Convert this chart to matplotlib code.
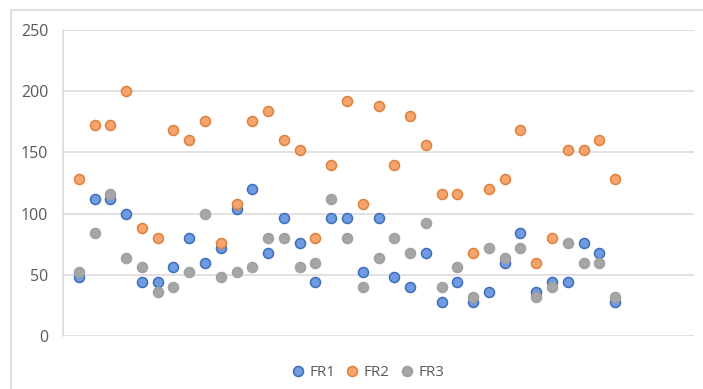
import numpy as np
import matplotlib.pyplot as plt
from matplotlib.patches import Rectangle

# sample index and the three readings
x = np.arange(1, 36)
fr1 = [48, 112, 112, 100, 44, 44, 56, 80, 60, 72, 104, 120, 68, 96, 76, 44, 96, 96,
       52, 96, 48, 40, 68, 28, 44, 28, 36, 60, 84, 36, 44, 44, 76, 68, 28]
fr2 = [128, 172, 172, 200, 88, 80, 168, 160, 176, 76, 108, 176, 184, 160, 152, 80, 140, 192,
       108, 188, 140, 180, 156, 116, 116, 68, 120, 128, 168, 60, 80, 152, 152, 160, 128]
fr3 = [52, 84, 116, 64, 56, 36, 40, 52, 100, 48, 52, 56, 80, 80, 56, 60, 112, 80,
       40, 64, 80, 68, 92, 40, 56, 32, 72, 64, 72, 32, 40, 76, 60, 60, 32]

series = [('FR1', fr1, '#6f9be0', '#3e6db8'),
          ('FR2', fr2, '#f4a46c', '#e0803f'),
          ('FR3', fr3, '#a6a6a6', '#a0a0a0')]

plt.rcParams['font.family'] = ['Open Sans', 'DejaVu Sans']
txt = '#595959'

fig = plt.figure(figsize=(7.03, 3.89), dpi=100)
fig.patch.set_facecolor('white')
# chart border
fig.patches.append(Rectangle((11/703, -0.05), 1.0, 1 - 10/389 + 0.05,
                             transform=fig.transFigure, fill=False,
                             edgecolor='#d9d9d9', lw=1.2))

ax = fig.add_axes([63/703, 1 - 336/389, 631/703, 306/389])
for name, vals, fc, ec in series:
    ax.scatter(x, vals, s=52, facecolor=fc, edgecolor=ec, linewidth=1.1,
               label=name, zorder=3)

ax.set_xlim(0, 40)
ax.set_ylim(0, 250)
ax.set_yticks(np.arange(0, 251, 50))
ax.set_xticks([])
ax.grid(axis='y', color='#d9d9d9', lw=1.1)
ax.set_axisbelow(True)
for s in ['top', 'right', 'bottom']:
    ax.spines[s].set_visible(False)
ax.spines['left'].set_color('#d9d9d9')
ax.spines['left'].set_linewidth(1.1)
ax.tick_params(axis='y', length=0, pad=10.5, labelsize=11.5, labelcolor=txt)

leg = fig.legend(loc='center', bbox_to_anchor=(368/703, 1 - 372/389), ncol=3,
                 frameon=False, handlelength=0.8, handletextpad=0.35,
                 columnspacing=0.7, fontsize=11, markerscale=1.0)
for t in leg.get_texts():
    t.set_color(txt)

fig.savefig('out.png', dpi=100)
